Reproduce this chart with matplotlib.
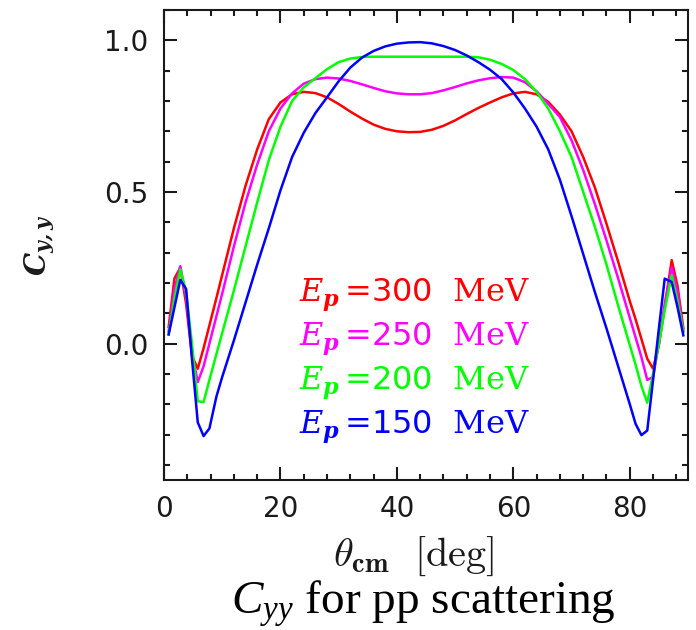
import matplotlib
matplotlib.use("Agg")
import matplotlib.pyplot as plt
from matplotlib.ticker import MultipleLocator, FixedLocator

# ---- data ----
theta = [0.8, 1.8, 2.8, 3.8, 4.8, 5.8, 6.8, 7.8, 9, 10, 12, 14, 16, 18, 20, 22, 24, 26,
         28, 30, 32, 34, 36, 38, 40, 42, 44, 46, 48, 50, 52, 54, 56, 58, 60, 62, 64, 66,
         68, 70, 72, 74, 76, 78, 80, 81, 82, 83, 84, 85, 86, 87.2, 88.2, 89.2]

cyy_300 = [0.055, 0.215, 0.25, 0.13, -0.04, -0.083, -0.015, 0.06, 0.15, 0.227, 0.38, 0.52,
           0.64, 0.74, 0.795, 0.822, 0.83, 0.826, 0.812, 0.79, 0.765, 0.742, 0.722, 0.708,
           0.7, 0.697, 0.698, 0.705, 0.718, 0.736, 0.757, 0.777, 0.795, 0.812, 0.825, 0.83,
           0.822, 0.797, 0.755, 0.7, 0.615, 0.515, 0.395, 0.27, 0.14, 0.08, 0.015, -0.05,
           -0.083, -0.005, 0.12, 0.275, 0.19, 0.05]

cyy_250 = [0.04, 0.18, 0.255, 0.15, -0.03, -0.127, -0.075, 0.0, 0.09, 0.165, 0.32, 0.465,
           0.59, 0.7, 0.775, 0.825, 0.857, 0.872, 0.877, 0.874, 0.866, 0.855, 0.843, 0.832,
           0.825, 0.822, 0.822, 0.826, 0.835, 0.846, 0.858, 0.868, 0.875, 0.879, 0.877,
           0.862, 0.832, 0.79, 0.747, 0.67, 0.572, 0.46, 0.34, 0.215, 0.085, 0.02, -0.045,
           -0.12, -0.11, 0.0, 0.13, 0.252, 0.17, 0.04]

cyy_200 = [0.03, 0.15, 0.245, 0.17, 0.0, -0.19, -0.193, -0.12, -0.035, 0.035, 0.175, 0.32,
           0.465, 0.605, 0.715, 0.8, 0.845, 0.875, 0.905, 0.928, 0.94, 0.945, 0.946, 0.946,
           0.946, 0.946, 0.946, 0.946, 0.946, 0.946, 0.946, 0.944, 0.936, 0.922, 0.902,
           0.872, 0.83, 0.775, 0.7, 0.615, 0.5, 0.385, 0.26, 0.125, -0.005, -0.07, -0.14,
           -0.195, -0.1, 0.0, 0.11, 0.225, 0.14, 0.04]

cyy_150 = [0.03, 0.12, 0.21, 0.18, -0.05, -0.26, -0.305, -0.28, -0.175, -0.11, 0.01, 0.135,
           0.26, 0.38, 0.505, 0.615, 0.695, 0.76, 0.812, 0.865, 0.91, 0.943, 0.965, 0.98,
           0.989, 0.993, 0.994, 0.99, 0.981, 0.968, 0.95, 0.928, 0.903, 0.872, 0.828, 0.775,
           0.715, 0.64, 0.54, 0.42, 0.295, 0.17, 0.05, -0.075, -0.2, -0.265, -0.302, -0.287,
           -0.12, 0.05, 0.214, 0.203, 0.12, 0.027]

energies = ["300", "250", "200", "150"]
colors = ["#ff0000", "#ff00ff", "#00ff00", "#0000ff"]
series = [cyy_300, cyy_250, cyy_200, cyy_150]

xticks = [0, 20, 40, 60, 80]
yticks = [0.0, 0.5, 1.0]

# ---- figure ----
W, H = 696, 630
fig = plt.figure(figsize=(W / 100, H / 100), dpi=100)
ax = fig.add_axes([164 / W, 1 - 480 / H, (688 - 164) / W, (480 - 10) / H])

for vals, c in zip(series, colors):
    ax.plot(theta, vals, color=c, lw=1.8, solid_joinstyle="round")

ax.set_xlim(0, 90)
ax.set_ylim(-0.45, 1.1)
ax.xaxis.set_major_locator(FixedLocator(xticks))
ax.yaxis.set_major_locator(FixedLocator(yticks))
ax.xaxis.set_minor_locator(MultipleLocator(4))
ax.yaxis.set_minor_locator(MultipleLocator(0.1))
ax.set_xticklabels([str(v) for v in xticks])
ax.set_yticklabels(["%.1f" % v for v in yticks])

for s in ax.spines.values():
    s.set_linewidth(1.5)
    s.set_color("#1a1a1a")
ax.tick_params(which="both", direction="in", top=True, right=True, width=1.5, color="#1a1a1a")
ax.tick_params(which="major", length=9.5, pad=11, labelsize=20, labelcolor="#1a1a1a")
ax.tick_params(which="minor", length=4)
for lab in ax.get_xticklabels() + ax.get_yticklabels():
    lab.set_fontfamily("DejaVu Sans")

# y label
fig.text(40 / W, 1 - 245 / H, r"$\mathbfit{C}_{\mathbfit{y,y}}$", rotation=90,
         ha="center", va="center", fontsize=21, math_fontfamily="dejavuserif",
         color="#1a1a1a")

# x label
fig.text(414 / W, 1 - 566 / H, r"$\theta_{\mathbf{cm}}\ \ [\mathrm{deg}]$",
         ha="center", va="baseline", fontsize=29, math_fontfamily="cm", color="#1a1a1a")

# energy labels
baselines = [302, 346, 390, 434]
for e, c, b in zip(energies, colors, baselines):
    fig.text(299 / W, 1 - b / H, r"$E_{\mathbfit{p}}\,$=" + e + r"  $\mathrm{MeV}$",
             ha="left", va="baseline", fontsize=23, color=c,
             fontfamily="DejaVu Sans", math_fontfamily="dejavuserif")

# caption
plt.rcParams["mathtext.it"] = "Liberation Serif:italic"
plt.rcParams["mathtext.rm"] = "Liberation Serif"
fig.text(423 / W, 1 - 614 / H, r"$C_{yy}$ for pp scattering", ha="center", va="baseline",
         fontsize=34, fontfamily="Liberation Serif", math_fontfamily="custom", color="black")

fig.savefig("out.png", dpi=100)
